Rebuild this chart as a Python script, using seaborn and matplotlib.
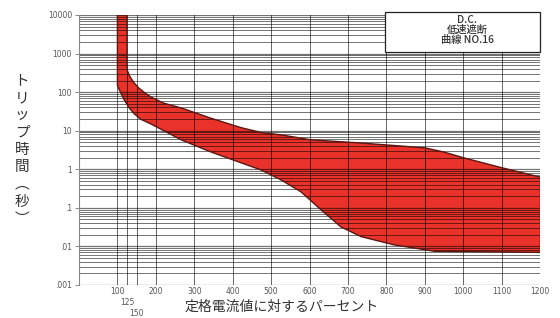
import numpy as np
import pandas as pd
import matplotlib
matplotlib.use("Agg")
import matplotlib.pyplot as plt
import seaborn as sns

# ---- data ----
upper_pct = [125, 125, 132, 142, 155, 170, 187, 220, 266, 344, 422, 474, 526, 604, 734, 839, 900, 950, 1000, 1100, 1200]
upper_t   = [10000, 380, 260, 180, 130, 98, 75, 52, 39, 21, 12, 9, 7.8, 5.8, 4.8, 4.0, 3.6, 2.8, 2.0, 1.1, 0.63]

lower_pct = [100, 100, 104, 117, 130, 143, 160, 187, 266, 344, 422, 474, 526, 578, 630, 682, 734, 820, 925, 1200]
lower_t   = [10000, 150, 120, 65, 40, 28, 20, 15, 5.8, 2.8, 1.47, 0.96, 0.53, 0.26, 0.089, 0.032, 0.018, 0.011, 0.0075, 0.007]

x_ticks = [100, 125, 150, 200, 300, 400, 500, 600, 700, 800, 900, 1000, 1100, 1200]
x_tick_labels = ["100", "125", "150", "200", "300", "400", "500", "600", "700", "800", "900", "1000", "1100", "1200"]
x_label_rows = [0, 1, 2, 0, 0, 0, 0, 0, 0, 0, 0, 0, 0, 0]
y_ticks = [0.001, 0.01, 0.1, 1, 10, 100, 1000, 10000]
y_tick_labels = [".001", ".01", ".1", "1", "10", "100", "1000", "10000"]

title_lines = ["D.C.", "低速遮断", "曲線 NO.16"]
x_label = "定格電流値に対するパーセント"
y_label = "トリップ時間︵秒︶"

# ---- style ----
sns.set_style("white")
plt.rcParams['font.family'] = ['Noto Sans CJK JP', 'DejaVu Sans']

fig = plt.figure(figsize=(5.6, 3.18), dpi=100)
ax = fig.add_axes([79/560, 1-285/318, (540-79)/560, (285-15)/318])
ax.set_yscale("log")
ax.set_xlim(0, 1200)
ax.set_ylim(0.001, 10000)

red = "#e8322a"
edge = "#5a1712"

# band fill
poly_x = upper_pct + lower_pct[::-1]
poly_y = upper_t + lower_t[::-1]
ax.fill(poly_x, poly_y, color=red, zorder=1, lw=0)

up = pd.DataFrame({"pct": upper_pct, "t": upper_t})
lo = pd.DataFrame({"pct": lower_pct, "t": lower_t})
sns.lineplot(data=up, x="pct", y="t", ax=ax, color=edge, lw=1.0, sort=False, estimator=None, zorder=3)
sns.lineplot(data=lo, x="pct", y="t", ax=ax, color=edge, lw=1.0, sort=False, estimator=None, zorder=3)
ax.plot([1200, 1200], [upper_t[-1], lower_t[-1]], color=edge, lw=1.0, zorder=3)

# grid
for dec in range(-3, 4):
    for m in range(1, 10):
        v = m * 10.0**dec
        ax.axhline(v, color="black", lw=0.9 if m == 1 else 0.7, alpha=0.55, zorder=2)
ax.axhline(10000, color="black", lw=0.9, alpha=0.55, zorder=2)
for xv in x_ticks:
    ax.axvline(xv, color="black", lw=0.7, alpha=0.6, zorder=2)

ax.set_xticks(x_ticks)
ax.set_xticklabels([])
trans = matplotlib.transforms.blended_transform_factory(ax.transData, fig.transFigure)
for xv, lab, row in zip(x_ticks, x_tick_labels, x_label_rows):
    ax.text(xv, 1 - (292 + row * 10.5) / 318, lab, transform=trans, ha="center", va="center",
            fontsize=5.5, color="#555555", family="DejaVu Sans")
ax.set_yticks(y_ticks)
ax.set_yticklabels(y_tick_labels, fontsize=5.5, color="#555555", family="DejaVu Sans")
ax.yaxis.set_minor_locator(matplotlib.ticker.NullLocator())
ax.tick_params(axis="y", length=3, width=0.6, color="#777777", pad=2, left=True)
ax.tick_params(axis="x", length=0, pad=4)
ax.set_xlabel("")
ax.set_ylabel("")

for s in ["top", "right", "bottom"]:
    ax.spines[s].set_visible(False)
ax.spines["left"].set_color("#888888")
ax.spines["left"].set_linewidth(0.8)

# title box
bx0, bx1 = 797, 1200
ax.fill([bx0, bx1, bx1, bx0], [1100, 1100, 12000, 12000], facecolor="white", edgecolor="#222222", lw=0.9, zorder=5, clip_on=False)
fig.text(467/560, 1-30/318, "\n".join(title_lines), ha="center", va="center", fontsize=7.4,
         color="#333333", linespacing=1.0, weight="medium", zorder=6)

# axis labels
fig.text(282/560, 1-307/318, x_label, ha="center", va="center", fontsize=10, color="#333333")
fig.text(22/560, 1-150/318, "\n".join(list(y_label)), ha="center", va="center", fontsize=10.5,
         color="#333333", linespacing=1.3)

fig.savefig("out.png", dpi=100)
